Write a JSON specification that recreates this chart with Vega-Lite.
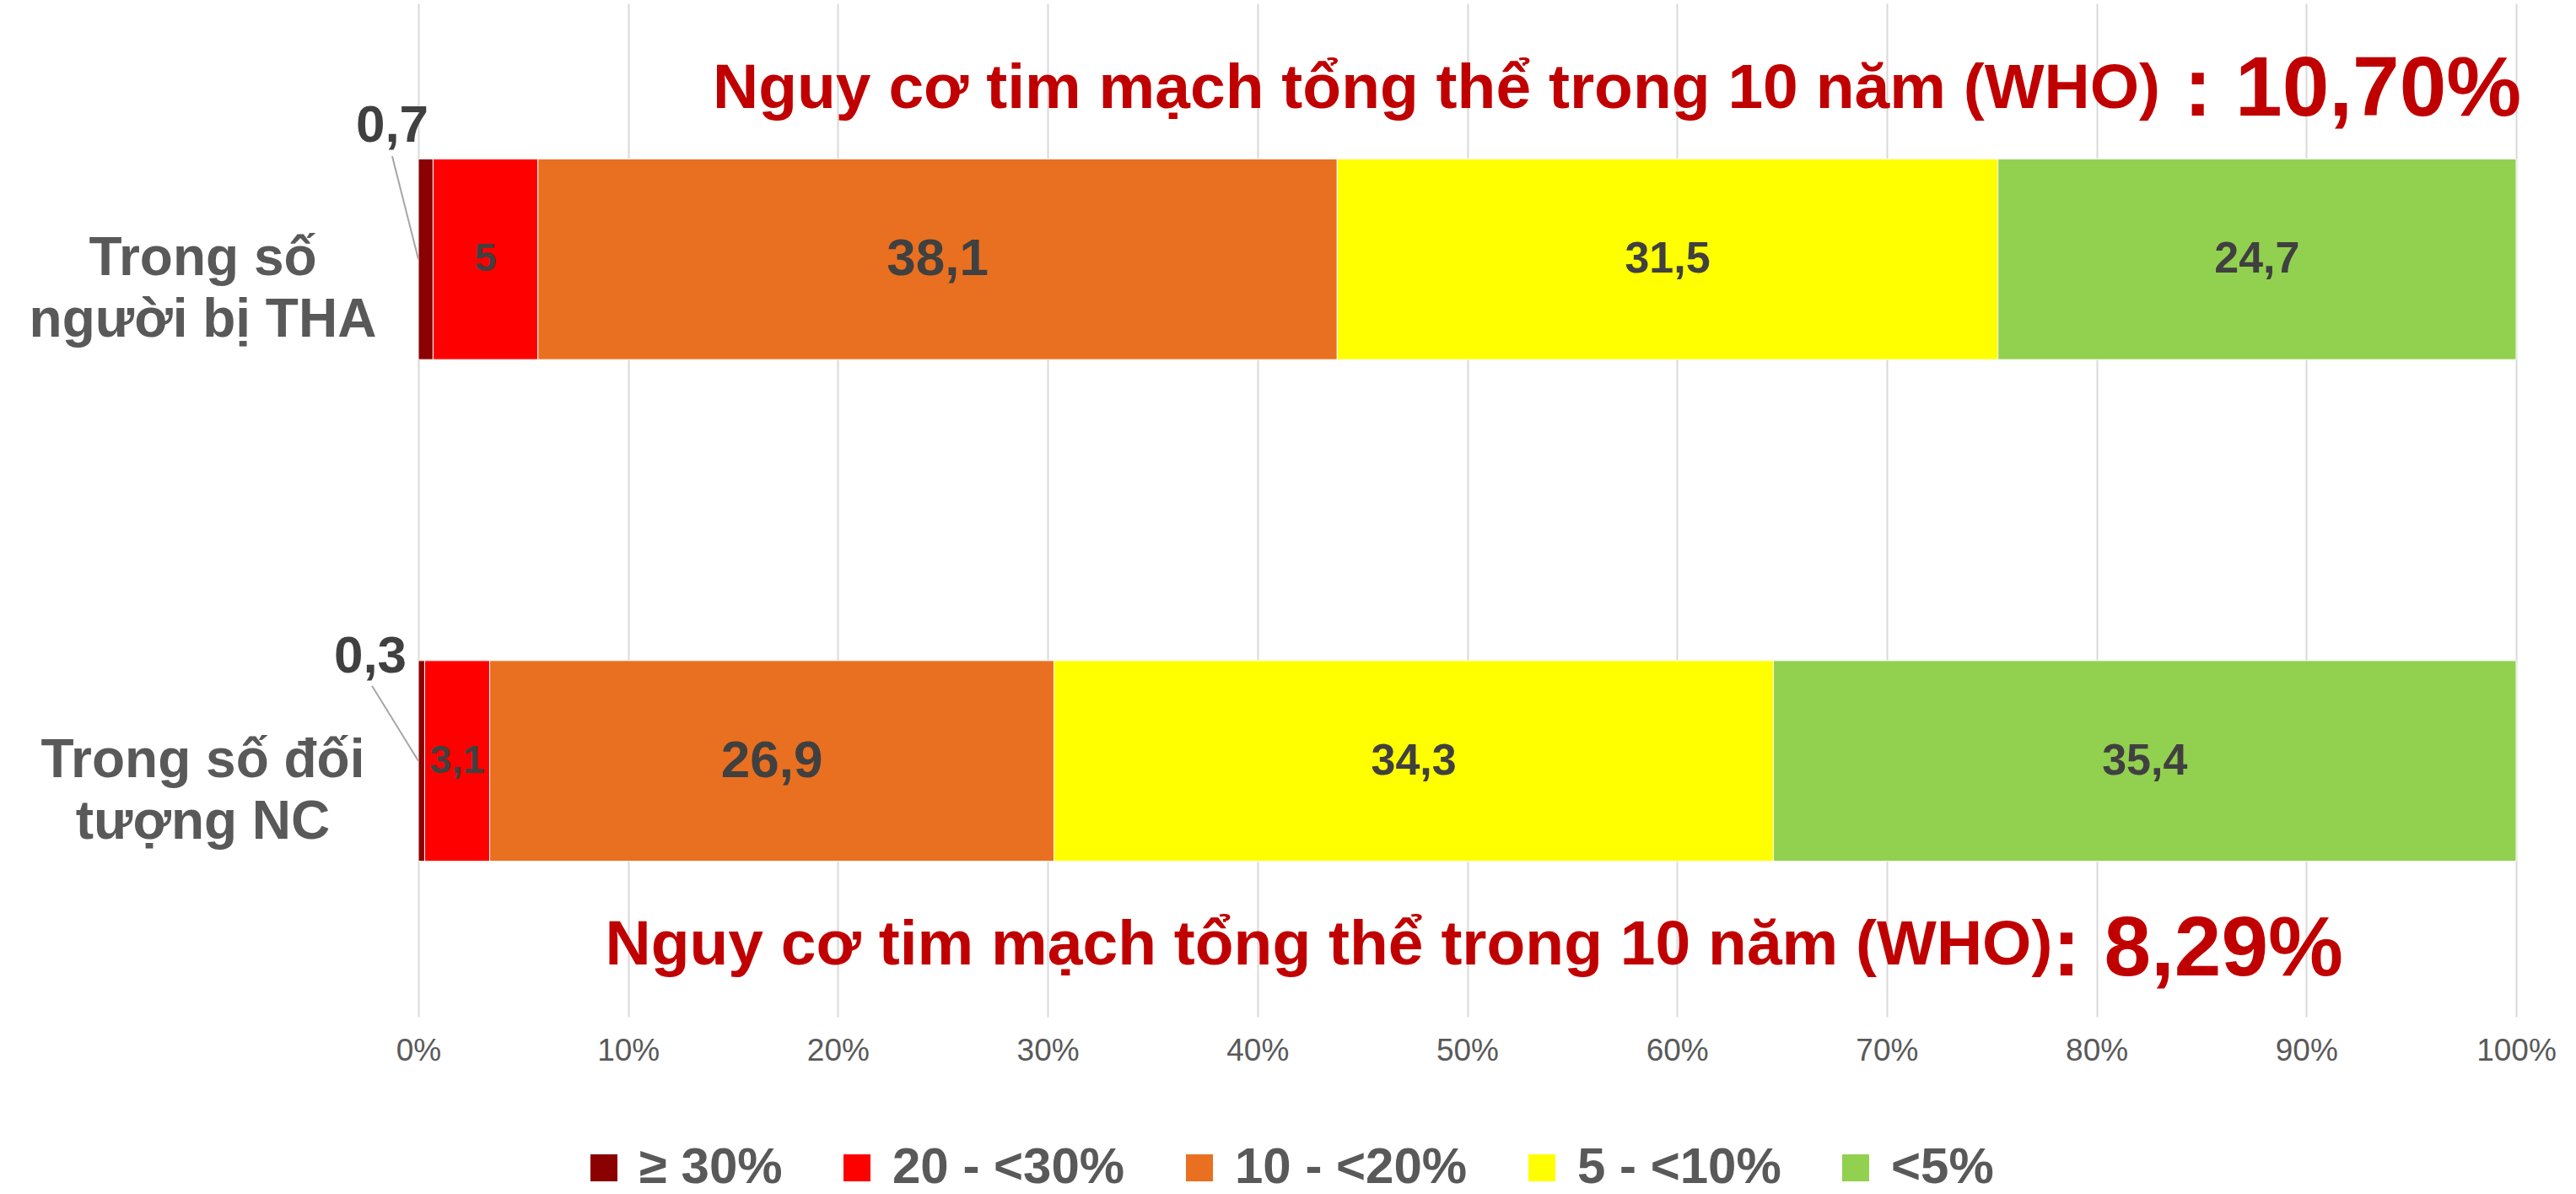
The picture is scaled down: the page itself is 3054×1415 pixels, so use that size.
{
  "$schema": "https://vega.github.io/schema/vega-lite/v6.json",
  "width": 2487,
  "height": 1201,
  "autosize": {"type": "none"},
  "padding": {"left": 496, "top": 4, "right": 71, "bottom": 210},
  "background": "white",
  "config": {"font": "Liberation Sans", "view": {"stroke": null}},
  "datasets": {
    "risk": [
      {"group": "Trong số người bị THA", "level": "≥ 30%", "value": 0.7},
      {"group": "Trong số người bị THA", "level": "20 - <30%", "value": 5},
      {"group": "Trong số người bị THA", "level": "10 - <20%", "value": 38.1},
      {"group": "Trong số người bị THA", "level": "5 - <10%", "value": 31.5},
      {"group": "Trong số người bị THA", "level": "<5%", "value": 24.7},
      {"group": "Trong số đối tượng NC", "level": "≥ 30%", "value": 0.3},
      {"group": "Trong số đối tượng NC", "level": "20 - <30%", "value": 3.1},
      {"group": "Trong số đối tượng NC", "level": "10 - <20%", "value": 26.9},
      {"group": "Trong số đối tượng NC", "level": "5 - <10%", "value": 34.3},
      {"group": "Trong số đối tượng NC", "level": "<5%", "value": 35.4}
    ],
    "notes": [
      {"group": "Trong số người bị THA", "part": "main", "text": "Nguy cơ tim mạch tổng thể trong 10 năm (WHO)", "at": 83.03},
      {"group": "Trong số người bị THA", "part": "value", "text": ": 10,70%", "at": 83.03},
      {"group": "Trong số đối tượng NC", "part": "main", "text": "Nguy cơ tim mạch tổng thể trong 10 năm (WHO)", "at": 77.9},
      {"group": "Trong số đối tượng NC", "part": "value", "text": ": 8,29%", "at": 77.9}
    ]
  },
  "layer": [
    {
      "data": {"name": "risk"},
      "transform": [
        {"calculate": "indexof(['≥ 30%','20 - <30%','10 - <20%','5 - <10%','<5%'], datum.level)", "as": "rank"},
        {"stack": "value", "groupby": ["group"], "sort": [{"field": "rank", "order": "ascending"}], "as": ["v0", "v1"]},
        {"calculate": "(datum.v0 + datum.v1) / 2", "as": "mid"},
        {"calculate": "replace(format(datum.value, '.1~f'), '.', ',')", "as": "label"}
      ],
      "layer": [
        {
          "mark": {"type": "bar", "stroke": "white", "strokeWidth": 1},
          "encoding": {
            "y": {
              "field": "group", "type": "nominal", "title": null,
              "scale": {"domain": ["Trong số người bị THA", "Trong số đối tượng NC"], "paddingInner": 0.6, "paddingOuter": 0.31},
              "axis": {
                "title": null, "domain": false, "ticks": false, "grid": false,
                "labelExpr": "datum.value == 'Trong số người bị THA' ? ['Trong số', 'người bị THA'] : ['Trong số đối', 'tượng NC']",
                "labelAlign": "center", "labelBaseline": "middle", "labelPadding": 256,
                "labelFontSize": 64, "labelFontWeight": "bold", "labelColor": "#595959",
                "labelLimit": 0, "labelLineHeight": 73
              }
            },
            "x": {
              "field": "v0", "type": "quantitative", "title": null,
              "scale": {"domain": [0, 100], "nice": false, "zero": true},
              "axis": {
                "title": null, "values": [0, 10, 20, 30, 40, 50, 60, 70, 80, 90, 100],
                "labelExpr": "datum.value + '%'", "grid": true, "gridColor": "#d9d9d9", "gridWidth": 2,
                "domain": false, "ticks": false, "labelFontSize": 37, "labelColor": "#595959",
                "labelPadding": 22, "labelFlush": false, "labelOverlap": false
              }
            },
            "x2": {"field": "v1"},
            "color": {
              "field": "level", "type": "nominal",
              "scale": {
                "domain": ["≥ 30%", "20 - <30%", "10 - <20%", "5 - <10%", "<5%"],
                "range": ["#8B0000", "#FF0000", "#E97020", "#FFFF00", "#92D050"]
              },
              "legend": {
                "title": null, "orient": "none", "legendX": 190, "legendY": 1350,
                "direction": "horizontal", "symbolType": "square", "symbolSize": 1024,
                "symbolStrokeWidth": 0, "labelFontSize": 60, "labelFontWeight": "bold",
                "labelColor": "#595959", "labelOffset": 12, "columnPadding": 58,
                "padding": 0, "labelLimit": 0
              }
            }
          }
        },
        {
          "transform": [{"filter": "datum.level == '10 - <20%'"}],
          "mark": {"type": "text", "fontSize": 62, "fontWeight": "bold", "color": "#404040", "align": "center", "baseline": "middle"},
          "encoding": {
            "x": {"field": "mid", "type": "quantitative", "title": null},
            "y": {"field": "group", "type": "nominal", "title": null},
            "text": {"field": "label"}
          }
        },
        {
          "transform": [{"filter": "datum.level == '5 - <10%' || datum.level == '<5%'"}],
          "mark": {"type": "text", "fontSize": 52, "fontWeight": "bold", "color": "#404040", "align": "center", "baseline": "middle"},
          "encoding": {
            "x": {"field": "mid", "type": "quantitative", "title": null},
            "y": {"field": "group", "type": "nominal", "title": null},
            "text": {"field": "label"}
          }
        },
        {
          "transform": [{"filter": "datum.level == '20 - <30%'"}],
          "mark": {"type": "text", "fontSize": 47, "fontWeight": "bold", "color": "#404040", "align": "center", "baseline": "middle"},
          "encoding": {
            "x": {"field": "mid", "type": "quantitative", "title": null},
            "y": {"field": "group", "type": "nominal", "title": null},
            "text": {"field": "label"}
          }
        },
        {
          "transform": [{"filter": "datum.level == '≥ 30%' && datum.group == 'Trong số người bị THA'"}],
          "mark": {"type": "text", "fontSize": 62, "fontWeight": "bold", "color": "#404040", "align": "center", "baseline": "alphabetic", "dx": -31, "dy": -139},
          "encoding": {
            "x": {"field": "v0", "type": "quantitative", "title": null},
            "y": {"field": "group", "type": "nominal", "title": null},
            "text": {"field": "label"}
          }
        },
        {
          "transform": [{"filter": "datum.level == '≥ 30%' && datum.group == 'Trong số đối tượng NC'"}],
          "mark": {"type": "text", "fontSize": 62, "fontWeight": "bold", "color": "#404040", "align": "center", "baseline": "alphabetic", "dx": -57, "dy": -105},
          "encoding": {
            "x": {"field": "v0", "type": "quantitative", "title": null},
            "y": {"field": "group", "type": "nominal", "title": null},
            "text": {"field": "label"}
          }
        },
        {
          "transform": [{"filter": "datum.level == '≥ 30%' && datum.group == 'Trong số người bị THA'"}],
          "mark": {"type": "rule", "color": "#a6a6a6", "strokeWidth": 2, "x2Offset": -31, "y2Offset": -122},
          "encoding": {
            "x": {"field": "v0", "type": "quantitative", "title": null},
            "x2": {"field": "v0"},
            "y": {"field": "group", "type": "nominal", "title": null, "bandPosition": 0.5},
            "y2": {"field": "group", "bandPosition": 0.5}
          }
        },
        {
          "transform": [{"filter": "datum.level == '≥ 30%' && datum.group == 'Trong số đối tượng NC'"}],
          "mark": {"type": "rule", "color": "#a6a6a6", "strokeWidth": 2, "x2Offset": -55, "y2Offset": -89},
          "encoding": {
            "x": {"field": "v0", "type": "quantitative", "title": null},
            "x2": {"field": "v0"},
            "y": {"field": "group", "type": "nominal", "title": null, "bandPosition": 0.5},
            "y2": {"field": "group", "bandPosition": 0.5}
          }
        }
      ]
    },
    {
      "data": {"name": "notes"},
      "layer": [
        {
          "transform": [{"filter": "datum.part == 'main' && datum.group == 'Trong số người bị THA'"}],
          "mark": {"type": "text", "fontSize": 75, "fontWeight": "bold", "color": "#C00000", "align": "right", "baseline": "alphabetic", "dy": -179},
          "encoding": {
            "x": {"field": "at", "type": "quantitative", "title": null},
            "y": {"field": "group", "type": "nominal", "title": null},
            "text": {"field": "text"}
          }
        },
        {
          "transform": [{"filter": "datum.part == 'value' && datum.group == 'Trong số người bị THA'"}],
          "mark": {"type": "text", "fontSize": 100, "fontWeight": "bold", "color": "#C00000", "align": "left", "baseline": "alphabetic", "dx": 28, "dy": -170},
          "encoding": {
            "x": {"field": "at", "type": "quantitative", "title": null},
            "y": {"field": "group", "type": "nominal", "title": null},
            "text": {"field": "text"}
          }
        },
        {
          "transform": [{"filter": "datum.part == 'main' && datum.group == 'Trong số đối tượng NC'"}],
          "mark": {"type": "text", "fontSize": 75, "fontWeight": "bold", "color": "#C00000", "align": "right", "baseline": "alphabetic", "dy": 241},
          "encoding": {
            "x": {"field": "at", "type": "quantitative", "title": null},
            "y": {"field": "group", "type": "nominal", "title": null},
            "text": {"field": "text"}
          }
        },
        {
          "transform": [{"filter": "datum.part == 'value' && datum.group == 'Trong số đối tượng NC'"}],
          "mark": {"type": "text", "fontSize": 100, "fontWeight": "bold", "color": "#C00000", "align": "left", "baseline": "alphabetic", "dy": 254},
          "encoding": {
            "x": {"field": "at", "type": "quantitative", "title": null},
            "y": {"field": "group", "type": "nominal", "title": null},
            "text": {"field": "text"}
          }
        }
      ]
    }
  ]
}
